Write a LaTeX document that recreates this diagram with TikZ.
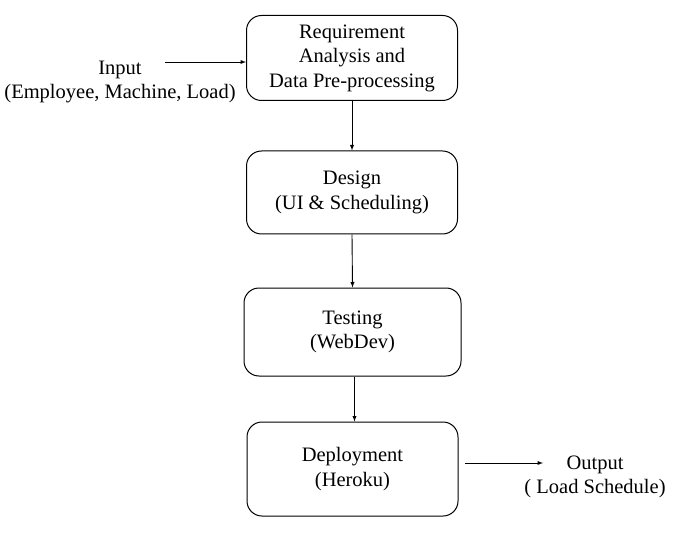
\documentclass[tikz,border=0pt]{standalone}
\usepackage{fontspec}
\setmainfont{Liberation Serif}
\usetikzlibrary{arrows,positioning}

\tikzset{
  stagebox/.style={draw,line width=1pt,rounded corners=15pt,minimum width=211pt,
    minimum height=85pt,align=center,inner sep=2pt},
  plaintext/.style={align=center,inner sep=0pt},
  flow/.style={-latex,line width=0.9pt}
}

\begin{document}
\begin{tikzpicture}[x=1pt,y=-1pt,font=\fontsize{20.5}{24.5}\selectfont]
\useasboundingbox (0,0) rectangle (684,534);
\node[stagebox] (req) at (352,58) {Requirement\\Analysis and\\Data Pre-processing};
\node[stagebox,minimum height=83pt] (des) at (352,192.5) {Design\\(UI \& Scheduling)};
\node[stagebox,minimum width=217pt,minimum height=88pt] (tes) at (352.5,332) {Testing\\(WebDev)};
\node[stagebox,minimum height=94pt] (dep) at (352.5,469) {Deployment\\(Heroku)};
\node[plaintext] (inp) at (120,82) {Input\\(Employee, Machine, Load)};
\node[plaintext] (out) at (595,477) {Output\\( Load Schedule)};
\coordinate (inp end) at (165,62);
\coordinate (out start) at (465,463);
\coordinate (out tip) at (543,463);
\draw[flow] (inp end) -- (inp end -| req.west);
\draw[flow] (req.south) -- (des.north);
\draw[flow] (des.south) -- (tes.north);
\draw[flow] ([xshift=2pt]tes.south) -- ([xshift=2pt]dep.north);
\draw[flow] (out start) -- (out tip);
\end{tikzpicture}
\end{document}
